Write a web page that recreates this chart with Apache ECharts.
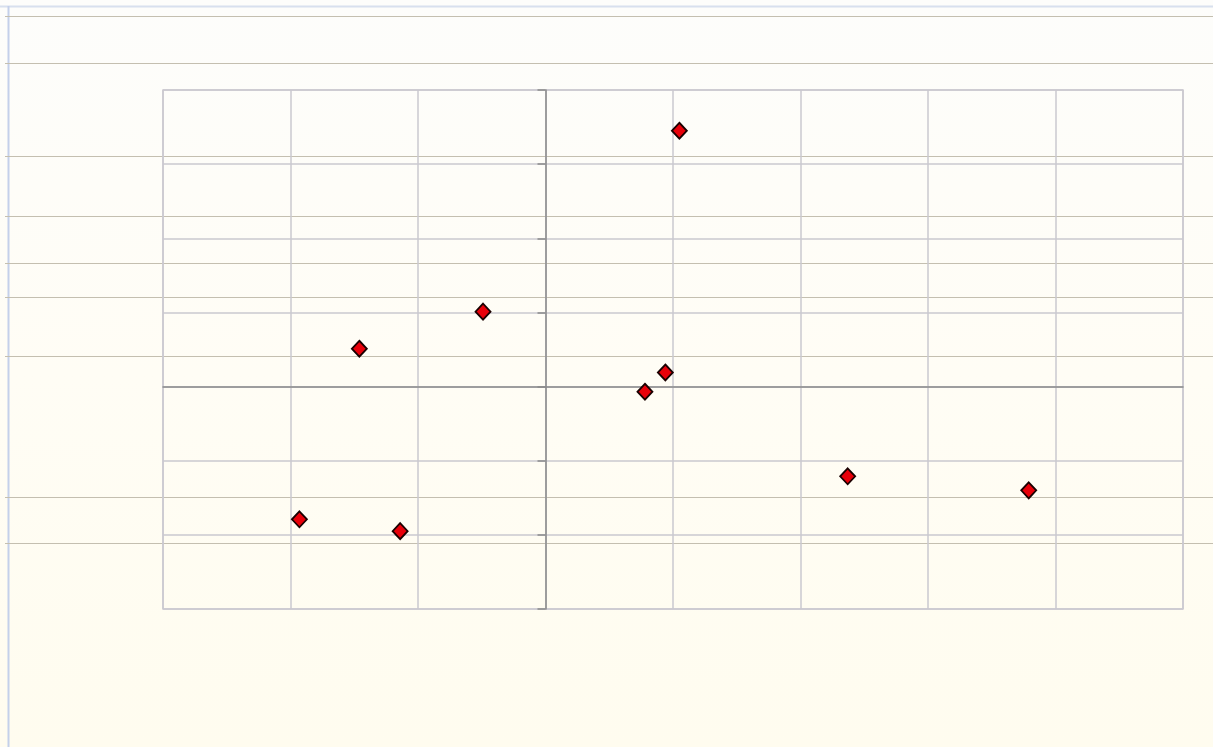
<!DOCTYPE html>
<html>
<head>
<meta charset="utf-8">
<script src="https://cdn.jsdelivr.net/npm/echarts@6/dist/echarts.min.js"></script>
<style>
  html, body { margin: 0; padding: 0; background: #fffdf6; }
  #chart { width: 1213px; height: 747px; }
</style>
</head>
<body>
<div id="chart"></div>
<script>
// Data (axis units: one grid cell = 1)
const xValues = [-1.93, -1.46, -1.14, -0.49, 0.78, 0.94, 1.05, 2.37, 3.79];
const yValues = [-1.79, 0.51, -1.95, 1.01, -0.07, 0.19, 3.45, -1.21, -1.40];
const xRange = [-3, 5];
const yRange = [-3, 4];
// decorative ruled-paper lines of the background (pixel rows)
const paperLines = [16, 63, 156, 216, 263, 297, 356, 497, 543];

const points = xValues.map((x, i) => [x, yValues[i]]);

const chart = echarts.init(document.getElementById('chart'), null, { renderer: 'canvas' });

const graphics = [
  { type: 'rect', z: -10, silent: true, shape: { x: 0, y: 0, width: 1213, height: 747 },
    style: { fill: new echarts.graphic.LinearGradient(0, 0, 0, 1, [
      { offset: 0, color: '#fdfdfb' }, { offset: 0.5, color: '#fffdf5' }, { offset: 1, color: '#fffcef' }]) } },
  { type: 'line', z: -5, silent: true, shape: { x1: 0, y1: 6.5, x2: 1213, y2: 6.5 },
    style: { stroke: '#d8e0ee', lineWidth: 2 } },
  { type: 'line', z: -5, silent: true, shape: { x1: 8.5, y1: 6, x2: 8.5, y2: 747 },
    style: { stroke: '#c4d0ea', lineWidth: 2 } }
];
paperLines.forEach(py => {
  graphics.push({ type: 'line', z: -4, silent: true,
    shape: { x1: 5, y1: py + 0.5, x2: 1213, y2: py + 0.5 },
    style: { stroke: '#c4bfb0', lineWidth: 1 } });
});

chart.setOption({
  animation: false,
  backgroundColor: 'transparent',
  graphic: graphics,
  grid: {
    left: 163, top: 90, right: 30, bottom: 138,
    show: true, borderColor: '#cdcad2', borderWidth: 1.5, backgroundColor: 'transparent'
  },
  xAxis: {
    type: 'value', min: xRange[0], max: xRange[1], interval: 1,
    axisLine: { show: true, onZero: true, lineStyle: { color: '#8a8a8a', width: 1.5 } },
    axisTick: { show: false },
    axisLabel: { show: false },
    splitLine: { show: true, lineStyle: { color: '#cac9cf', width: 1.5 } }
  },
  yAxis: {
    type: 'value', min: yRange[0], max: yRange[1], interval: 1,
    axisLine: { show: true, onZero: true, lineStyle: { color: '#8a8a8a', width: 1.5 } },
    axisTick: { show: true, inside: false, length: 8, lineStyle: { color: '#8a8a8a', width: 1.5 } },
    axisLabel: { show: false },
    splitLine: { show: true, lineStyle: { color: '#cac9cf', width: 1.5 } }
  },
  series: [{
    type: 'scatter',
    data: points,
    symbol: 'diamond',
    symbolSize: [15, 16],
    itemStyle: { color: '#e8000a', borderColor: '#1a0000', borderWidth: 1.8, opacity: 1 }
  }]
});
</script>
</body>
</html>
